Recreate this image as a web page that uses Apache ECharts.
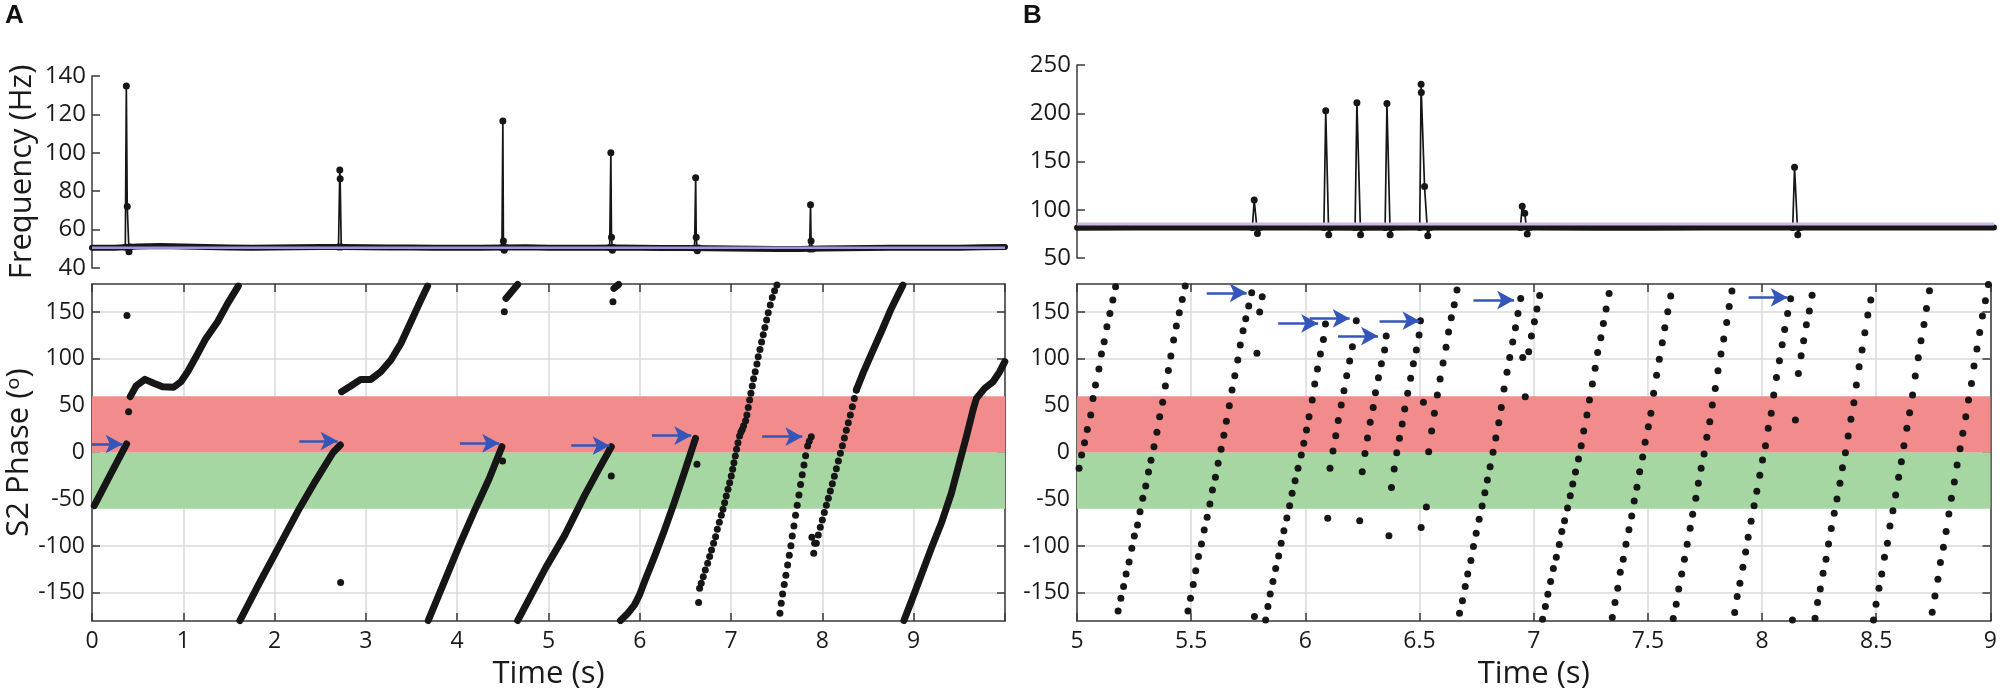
<!DOCTYPE html>
<html><head><meta charset="utf-8">
<script src="https://cdn.jsdelivr.net/npm/echarts@6/dist/echarts.min.js"></script>
<style>html,body{margin:0;padding:0;background:#fff}#c{width:2000px;height:695px}</style>
</head><body><div id="c"></div>
<script>
// ---------------- DATA ----------------
const phaseTicks = [-150, -100, -50, 0, 50, 100, 150];
const timeLabelsA = [0, 1, 2, 3, 4, 5, 6, 7, 8, 9];
const bandRed = [0, 60];
const bandGreen = [-60, 0];

// Panel A, frequency (Hz)
const baseTimeA = [0,0.25,0.5,0.75,1,1.25,1.5,1.75,2,2.25,2.5,2.75,3,3.25,3.5,3.75,4,4.25,4.5,4.75,5,5.25,5.5,5.75,6,6.25,6.5,6.75,7,7.25,7.5,7.75,8,8.25,8.5,8.75,9,9.25,9.5,9.75,10];
const baseFreqA = [50.6,50.6,51.2,51.4,51.2,50.9,50.7,50.6,50.7,50.8,50.9,50.9,50.8,50.7,50.7,50.6,50.6,50.6,50.7,50.8,50.6,50.5,50.6,50.7,50.5,50.4,50.4,50.3,50.1,50.0,49.9,49.9,50.1,50.3,50.4,50.5,50.5,50.6,50.6,50.8,50.9];
const meanFreqA = 50.6;
const spikesA = [
  [[0.365,50.8],[0.376,134.8],[0.386,72],[0.405,48.4],[0.42,51]],
  [[2.70,50.9],[2.714,91],[2.718,86.5],[2.73,50.9]],
  [[4.49,50.7],[4.500,116.5],[4.506,54],[4.515,49.2],[4.53,50.7]],
  [[5.67,50.7],[5.683,100],[5.690,56],[5.70,49.2],[5.715,50.7]],
  [[6.60,50.4],[6.612,87],[6.618,56],[6.63,49],[6.645,50.4]],
  [[7.86,49.9],[7.870,73],[7.876,54],[7.89,49.9]]
];

// Panel B, frequency (Hz)
const baseTimeB = [5,5.25,5.5,5.75,6,6.25,6.5,6.75,7,7.25,7.5,7.75,8,8.25,8.5,8.75,9];
const baseFreqB = [81.4,81.5,81.5,81.6,81.5,81.4,81.5,81.6,81.5,81.4,81.4,81.5,81.5,81.6,81.5,81.5,81.6];
const meanFreqB = 85.3;
const spikesB = [
  [[5.765,81.5],[5.773,110],[5.787,75.5],[5.797,81.5]],
  [[6.077,81.5],[6.085,202.5],[6.098,74],[6.108,81.5]],
  [[6.213,81.5],[6.221,211],[6.237,74],[6.247,81.5]],
  [[6.344,81.5],[6.352,210],[6.366,74],[6.376,81.5]],
  [[6.495,81.5],[6.501,230],[6.502,221.5],[6.516,124],[6.530,73],[6.540,81.5]],
  [[6.934,81.5],[6.942,103.5],[6.953,96.5],[6.964,75],[6.974,81.5]],
  [[8.122,81.5],[8.130,144],[8.144,74],[8.154,81.5]]
];

// Panel A, S2 phase (deg): dense runs drawn as thick traces
const phaseLinesA = [
  [[0.025,-56.8],[0.2,-24],[0.379,9.1]],
  [[0.419,59.6],[0.482,71],[0.58,78.1],[0.683,73.8],[0.773,70.3],[0.894,69.6],[0.974,75.6],[1.048,86.3],[1.139,102.3],[1.248,121.9],[1.376,139.7],[1.486,159.3],[1.602,177.8]],
  [[1.62,-179.5],[1.83,-140],[2.05,-100],[2.27,-60],[2.45,-30],[2.64,0],[2.72,8]],
  [[2.734,65],[2.834,71],[2.944,78.1],[3.054,78.1],[3.163,86.3],[3.274,98.8],[3.383,116.5],[3.493,139.7],[3.602,162.8],[3.676,177.8]],
  [[3.683,-179.5],[3.85,-140],[4.02,-100],[4.19,-62],[4.35,-28],[4.49,6.2]],
  [[4.534,164.6],[4.662,179.5]],
  [[4.662,-179.5],[4.97,-123],[5.18,-88],[5.40,-45],[5.55,-18],[5.688,6.2]],
  [[5.717,175.3],[5.768,179.5]],
  [[5.789,-179.5],[5.869,-171.7],[5.942,-162.8],[5.997,-152.1],[6.052,-137.9],[6.161,-111.2],[6.271,-82.7],[6.381,-52.5],[6.491,-20.5],[6.61,15.1]],
  [[8.372,66.7],[8.444,84.5],[8.536,105.2],[8.645,129],[8.755,153.9],[8.827,168.1],[8.882,178.8]],
  [[8.893,-179.5],[8.973,-159.3],[9.083,-130.8],[9.193,-102.3],[9.302,-75.6],[9.412,-43.6],[9.504,-9.8],[9.577,16.9],[9.650,45.4],[9.687,57.8],[9.777,68.5],[9.869,75.6],[9.942,86.3],[9.998,97]]
];
// Panel A, S2 phase: individual dots
const phaseDotsA = [
  [0.383,146.4],[0.401,43.6],[2.723,-139],[4.497,-9.1],[4.516,150.4],[5.688,-25.1],[5.706,161],[6.626,-12.6],[6.644,-160.3],
  [6.655,-145],[6.673,-139.7],[6.695,-132.6],[6.717,-125.5],[6.743,-118.3],[6.765,-111.2],[6.786,-104.1],[6.808,-97],[6.830,-89.9],[6.849,-82],
  [6.871,-74.6],[6.893,-67.1],[6.911,-60.7],[6.929,-53.6],[6.947,-46.4],[6.966,-39.3],[6.984,-32.2],[7.002,-25.1],[7.017,-18],[7.031,-10.9],
  [7.046,-3.7],[7.060,3.4],[7.075,10.5],[7.093,17.6],[7.108,22],[7.122,24.7],[7.137,28.5],[7.159,34],[7.173,40],[7.188,48.2],[7.203,56],
  [7.217,63.2],[7.232,71],[7.246,78.8],[7.264,86.3],[7.283,94.5],[7.297,102.3],[7.316,110.1],[7.334,118],[7.352,125.8],[7.370,133.6],
  [7.389,141.5],[7.407,149.3],[7.429,157.5],[7.451,165.7],[7.476,172.8],[7.502,179],
  [7.535,-171.7],[7.549,-161],[7.564,-151.1],[7.582,-141.1],[7.600,-131.1],[7.619,-120.1],[7.637,-109.8],[7.655,-99.5],[7.670,-89.1],
  [7.688,-78.5],[7.706,-67.1],[7.724,-56.4],[7.743,-45.4],[7.761,-34.3],[7.779,-23.7],[7.798,-13.3],[7.816,-3.4],[7.838,6.9],[7.856,12],[7.878,16.9],
  [7.885,-90.6],[7.905,-107.7],[7.915,-97],
  [7.933,-97],[7.955,-88.1],[7.977,-79.9],[7.999,-72.1],[8.021,-64.2],[8.043,-56.4],[8.065,-48.9],[8.087,-41.1],[8.109,-33.3],[8.131,-25.4],
  [8.153,-17.3],[8.175,-9.1],[8.197,-0.9],[8.219,7.3],[8.241,15.5],[8.262,23.7],[8.284,31.9],[8.306,40],[8.328,48.9],[8.350,57.8],[8.372,66.7]
];

// Panel B, S2 phase dots (one per cycle)
const phaseDotsB = [
  [5.009,-16.9],[5.020,-2.7],[5.033,10.5],[5.045,24.7],[5.060,40.0],[5.070,57.8],[5.081,72.1],[5.096,89.1],[5.107,105.2],[5.119,118.3],[5.131,134.3],[5.144,148.6],[5.157,162.8],[5.169,177.0],
  [5.180,-169.2],[5.192,-155.7],[5.204,-143.2],[5.215,-129.7],[5.228,-116.9],[5.240,-102.3],[5.251,-89.1],[5.265,-77.4],[5.276,-63.2],[5.288,-48.9],[5.301,-35.8],[5.313,-20.8],[5.324,-8.4],[5.337,6.2],[5.350,21.5],[5.362,38.3],[5.375,53.6],[5.387,71.0],[5.400,87.7],[5.411,103.0],[5.423,120.1],[5.435,135.1],[5.448,149.3],[5.461,163.5],[5.474,177.8],
  [5.486,-169.2],[5.497,-155.7],[5.509,-141.1],[5.520,-126.2],[5.532,-111.2],[5.545,-97.7],[5.557,-82.7],[5.570,-69.2],[5.582,-55.0],[5.593,-40.0],[5.606,-26.5],[5.618,-11.6],[5.631,3.4],[5.643,18.3],[5.654,33.3],[5.667,50.0],[5.679,66.7],[5.691,82.0],[5.704,98.8],[5.715,114.8],[5.727,130.1],[5.739,142.9],[5.752,156.4],[5.765,170.6],
  [5.777,-175.3],[5.788,105.9],[5.800,150.0],[5.811,166.4],[5.826,-178.8],
  [5.836,-164.6],[5.846,-151.1],[5.858,-137.9],[5.870,-124.0],[5.883,-110.5],[5.894,-97.0],[5.906,-83.5],[5.919,-69.9],[5.931,-56.8],[5.942,-43.6],[5.955,-30.1],[5.968,-16.9],[5.982,-2.7],[5.993,9.8],[6.005,24.0],[6.016,38.3],[6.030,56.0],[6.041,73.1],[6.053,89.1],[6.066,105.2],[6.079,120.8],[6.088,137.2],
  [6.098,-70.3],[6.108,-16.9],[6.121,1.6],[6.133,18.0],[6.144,34.3],[6.157,50.7],[6.169,66.0],[6.181,82.0],[6.194,97.7],[6.206,113.0],[6.223,140.7],
  [6.238,-72.8],[6.249,-20.5],[6.261,-1.2],[6.272,15.5],[6.284,32.2],[6.297,48.2],[6.307,63.9],[6.320,79.9],[6.333,94.8],[6.347,109.4],[6.354,124.4],
  [6.366,-88.8],[6.377,-37.5],[6.389,-17.6],[6.400,-0.2],[6.412,15.1],[6.424,30.4],[6.435,46.4],[6.448,63.2],[6.461,79.2],[6.473,94.8],[6.486,109.4],[6.498,125.4],[6.504,140.7],
  [6.507,-80.2],[6.517,53.6],[6.530,-58.2],[6.540,0.9],
  [6.553,23.0],[6.565,41.8],[6.578,61.4],[6.590,78.5],[6.603,95.6],[6.616,112.3],[6.627,128.6],[6.639,143.9],[6.652,157.8],[6.664,173.5],
  [6.675,-171.7],[6.688,-158.5],[6.700,-143.2],[6.711,-129.7],[6.725,-115.5],[6.736,-100.5],[6.748,-86.3],[6.761,-71.4],[6.774,-57.1],[6.786,-42.9],[6.797,-29.4],[6.809,-15.1],[6.822,0.2],[6.834,15.5],[6.847,31.9],[6.858,48.2],[6.870,67.8],[6.883,85.6],[6.895,101.6],[6.908,118.0],[6.920,133.3],[6.931,148.6],[6.943,164.6],
  [6.952,101.6],[6.963,59.6],[6.978,107.6],[6.990,124.4],[7.003,139.7],[7.014,153.2],[7.026,167.8],
  [7.039,-178.1],[7.051,-164.6],[7.062,-151.4],[7.074,-137.9],[7.086,-124.0],[7.099,-111.9],[7.112,-98.4],[7.123,-84.5],[7.135,-72.8],[7.148,-59.3],[7.160,-46.1],[7.171,-33.7],[7.183,-20.8],[7.196,-6.9],[7.208,7.3],[7.219,23.0],[7.233,40.0],[7.244,56.0],[7.257,73.1],[7.269,89.9],[7.280,106.9],[7.294,122.6],[7.305,137.9],[7.317,153.2],[7.330,169.9],
  [7.344,-176.3],[7.356,-160.3],[7.368,-145.0],[7.379,-127.9],[7.392,-114.1],[7.404,-98.0],[7.417,-82.4],[7.429,-67.8],[7.440,-51.8],[7.452,-37.2],[7.464,-20.5],[7.477,-4.8],[7.488,10.9],[7.502,27.6],[7.513,41.8],[7.525,63.2],[7.538,82.4],[7.550,99.5],[7.563,117.3],[7.574,133.3],[7.587,150.4],[7.600,167.1],
  [7.611,-177.4],[7.624,-162.1],[7.635,-145.7],[7.648,-129.7],[7.660,-114.1],[7.672,-98.0],[7.685,-81.0],[7.696,-66.0],[7.710,-48.9],[7.721,-32.9],[7.733,-16.9],[7.746,-1.6],[7.758,16.2],[7.771,32.9],[7.782,50.7],[7.795,68.5],[7.807,87.4],[7.820,105.2],[7.832,121.2],[7.845,139.0],[7.856,156.0],[7.868,172.4],
  [7.880,-171.0],[7.891,-153.9],[7.903,-139.7],[7.916,-122.6],[7.928,-106.2],[7.939,-90.6],[7.952,-73.5],[7.965,-56.8],[7.977,-41.5],[7.990,-24.4],[8.002,-8.0],[8.015,7.3],[8.027,25.8],[8.040,41.8],[8.051,61.4],[8.063,80.2],[8.076,98.0],[8.088,115.1],[8.099,131.5],[8.112,148.6],[8.125,164.2],
  [8.133,-178.8],[8.146,34.7],[8.159,84.5],[8.171,103.4],[8.182,119.4],[8.194,136.5],[8.207,151.1],[8.219,168.1],
  [8.232,-177.0],[8.243,-160.3],[8.255,-145.7],[8.267,-129.0],[8.280,-114.1],[8.291,-97.7],[8.303,-81.3],[8.316,-64.9],[8.328,-49.6],[8.341,-32.9],[8.352,-16.2],[8.365,-0.2],[8.377,17.6],[8.389,35.4],[8.402,53.2],[8.413,72.1],[8.425,91.6],[8.438,109.4],[8.450,127.9],[8.463,146.8],[8.476,162.8],
  [8.488,-178.8],[8.499,-162.1],[8.512,-145.0],[8.524,-129.7],[8.536,-111.9],[8.549,-97.0],[8.560,-78.5],[8.573,-62.1],[8.585,-45.4],[8.598,-26.5],[8.610,-9.8],[8.621,7.3],[8.634,25.8],[8.646,42.5],[8.659,61.4],[8.671,81.7],[8.684,101.2],[8.696,119.4],[8.709,136.8],[8.720,153.9],[8.733,172.8],
  [8.745,-170.6],[8.757,-153.2],[8.770,-135.4],[8.781,-117.6],[8.794,-101.2],[8.806,-84.5],[8.818,-65.7],[8.829,-48.9],[8.842,-31.5],[8.854,-13.3],[8.867,4.1],[8.879,20.5],[8.892,38.3],[8.904,56.0],[8.917,73.8],[8.928,92.3],[8.941,110.5],[8.953,128.3],[8.965,145.7],[8.978,162.1],[8.991,179.5]
];

// Arrows: [t start, t end, phase]
const arrowsA = [[0.0,0.335,9.1],[2.27,2.69,12.3],[4.03,4.46,9.8],[5.249,5.669,7.3],[6.133,6.564,18],[7.34,7.78,16.9]];
const arrowsB = [[5.568,5.743,170.6],[5.881,6.056,137.9],[6.019,6.194,143.2],[6.143,6.318,124.4],[6.325,6.50,140.7],[6.736,6.914,162.8],[7.941,8.112,165.7]];

// ---------------- STYLE / LAYOUT ----------------
const FONT = '"Open Sans", "Noto Sans", "Liberation Sans", sans-serif';
const INK = '#161616';
const AXIS = '#3a3a3a';
const GRIDC = '#dadada';
const RED = '#F28B8B';
const GREEN = '#A6D6A1';
const BLUE = '#3456BA';
const PURPLE_A = '#a292dc';
const PURPLE_B = '#cdb9e2';

const zip = (xs, ys) => xs.map((x, i) => [x, ys[i]]);
const axLine = {show: true, onZero: false, lineStyle: {color: AXIS, width: 1.5}};
const tick = (extra) => Object.assign({show: true, inside: true, length: 8, lineStyle: {color: AXIS, width: 1.5}}, extra || {});
const lbl = (size, extra) => Object.assign({color: '#1a1a1a', fontSize: size, fontFamily: FONT}, extra || {});

const grid = [
  {left: 92, top: 76, width: 913, height: 192},
  {left: 92, top: 284, width: 913, height: 337},
  {left: 1077, top: 65, width: 917, height: 193},
  {left: 1077, top: 284, width: 917, height: 337}
];

const xAxis = [
  {gridIndex: 0, type: 'value', min: 0, max: 10, show: false},
  {gridIndex: 1, type: 'value', min: 0, max: 10, interval: 1, position: 'bottom',
   axisLine: axLine, axisTick: tick(), splitLine: {show: true, lineStyle: {color: GRIDC, width: 1.5}},
   axisLabel: lbl(23, {margin: 9, customValues: timeLabelsA}),
   name: 'Time (s)', nameLocation: 'middle', nameGap: 38, nameTextStyle: {fontSize: 31, fontFamily: FONT, color: '#1a1a1a'}},
  {gridIndex: 1, type: 'value', min: 0, max: 10, interval: 1, position: 'top',
   axisLine: axLine, axisTick: tick(), splitLine: {show: false}, axisLabel: {show: false}},
  {gridIndex: 2, type: 'value', min: 5, max: 9, show: false},
  {gridIndex: 3, type: 'value', min: 5, max: 9, interval: 0.5, position: 'bottom',
   axisLine: axLine, axisTick: tick(), splitLine: {show: true, lineStyle: {color: GRIDC, width: 1.5}},
   axisLabel: lbl(23, {margin: 9}),
   name: 'Time (s)', nameLocation: 'middle', nameGap: 38, nameTextStyle: {fontSize: 31, fontFamily: FONT, color: '#1a1a1a'}},
  {gridIndex: 3, type: 'value', min: 5, max: 9, interval: 0.5, position: 'top',
   axisLine: axLine, axisTick: tick(), splitLine: {show: false}, axisLabel: {show: false}}
];

const phaseLeft = (gi, withName) => ({
  gridIndex: gi, type: 'value', min: -180, max: 180, position: 'left',
  axisLine: axLine, axisTick: tick({customValues: phaseTicks}),
  splitLine: {show: true, lineStyle: {color: GRIDC, width: 1.5}},
  axisLabel: lbl(23, {margin: 7, customValues: phaseTicks}),
  name: withName ? 'S2 Phase (\u1D52)' : '', nameLocation: 'middle', nameGap: 50,
  nameTextStyle: {fontSize: 31, fontFamily: FONT, color: '#1a1a1a'}
});
const phaseRight = (gi) => ({
  gridIndex: gi, type: 'value', min: -180, max: 180, position: 'right',
  axisLine: axLine, axisTick: tick({customValues: phaseTicks}),
  splitLine: {show: false}, axisLabel: {show: false, customValues: phaseTicks}
});

const yAxis = [
  {gridIndex: 0, type: 'value', min: 40, max: 140, interval: 20, position: 'left',
   axisLine: axLine, axisTick: tick(), splitLine: {show: false},
   axisLabel: lbl(24, {margin: 6}),
   name: 'Frequency (Hz)', nameLocation: 'middle', nameGap: 54,
   nameTextStyle: {fontSize: 31, fontFamily: FONT, color: '#1a1a1a'}},
  phaseLeft(1, true),
  phaseRight(1),
  {gridIndex: 2, type: 'value', min: 50, max: 250, interval: 50, position: 'left',
   axisLine: axLine, axisTick: tick(), splitLine: {show: false},
   axisLabel: lbl(24, {margin: 6})},
  phaseLeft(3, false),
  phaseRight(3)
];

const series = [];
function freqPanel(xi, yi, baseT, baseF, mean, spikes, x0, x1) {
  series.push({type: 'line', xAxisIndex: xi, yAxisIndex: yi, data: zip(baseT, baseF), showSymbol: false,
    lineStyle: {width: 6, color: INK, join: 'round', cap: 'round'}, z: 2, silent: true});
  spikes.forEach(s => series.push({type: 'line', xAxisIndex: xi, yAxisIndex: yi, data: s,
    symbol: 'circle', symbolSize: 7, showSymbol: true, itemStyle: {color: INK, opacity: 1},
    lineStyle: {width: 1.7, color: INK}, z: 3, silent: true}));
  series.push({type: 'line', xAxisIndex: xi, yAxisIndex: yi, data: [[x0, mean], [x1, mean]], showSymbol: false,
    lineStyle: {width: xi === 0 ? 2.5 : 3, color: xi === 0 ? PURPLE_A : PURPLE_B}, z: 4, silent: true});
}
function phasePanel(xi, yi, lines, dots, arrows, dotSize) {
  series.push({type: 'line', xAxisIndex: xi, yAxisIndex: yi, data: [], z: 1, silent: true,
    markArea: {silent: true, data: [
      [{yAxis: bandRed[1], itemStyle: {color: RED, opacity: 1}}, {yAxis: bandRed[0]}],
      [{yAxis: bandGreen[1], itemStyle: {color: GREEN, opacity: 1}}, {yAxis: bandGreen[0]}]
    ]}});
  lines.forEach(l => series.push({type: 'line', xAxisIndex: xi, yAxisIndex: yi, data: l, showSymbol: false,
    lineStyle: {width: 7, color: INK, cap: 'round', join: 'round'}, z: 3, silent: true}));
  series.push({type: 'scatter', xAxisIndex: xi, yAxisIndex: yi, data: dots, symbolSize: dotSize,
    itemStyle: {color: INK, opacity: 1}, z: 3, silent: true});
  series.push({type: 'line', xAxisIndex: xi, yAxisIndex: yi, data: [], z: 5, silent: true,
    markLine: {silent: true, symbol: ['none', 'arrow'], symbolSize: [14, 17], animation: false,
      label: {show: false}, lineStyle: {color: BLUE, width: 2.6, type: 'solid', opacity: 1},
      emphasis: {disabled: true},
      data: arrows.map(a => [{coord: [a[0], a[2]]}, {coord: [a[1], a[2]]}])}});
}
freqPanel(0, 0, baseTimeA, baseFreqA, meanFreqA, spikesA, 0, 10);
phasePanel(1, 1, phaseLinesA, phaseDotsA, arrowsA, 7);
freqPanel(3, 3, baseTimeB, baseFreqB, meanFreqB, spikesB, 5, 9);
phasePanel(4, 4, [], phaseDotsB, arrowsB, 7);

const chart = echarts.init(document.getElementById('c'), null, {renderer: 'canvas'});
chart.setOption({
  backgroundColor: '#ffffff',
  animation: false,
  title: [
    {text: 'A', left: 5, top: 3, padding: 0, textStyle: {fontSize: 26, fontWeight: 'bold', fontFamily: '"Liberation Sans", Arial, sans-serif', color: '#111'}},
    {text: 'B', left: 1023, top: 3, padding: 0, textStyle: {fontSize: 26, fontWeight: 'bold', fontFamily: '"Liberation Sans", Arial, sans-serif', color: '#111'}}
  ],
  grid, xAxis, yAxis, series
});
</script>
</body></html>
